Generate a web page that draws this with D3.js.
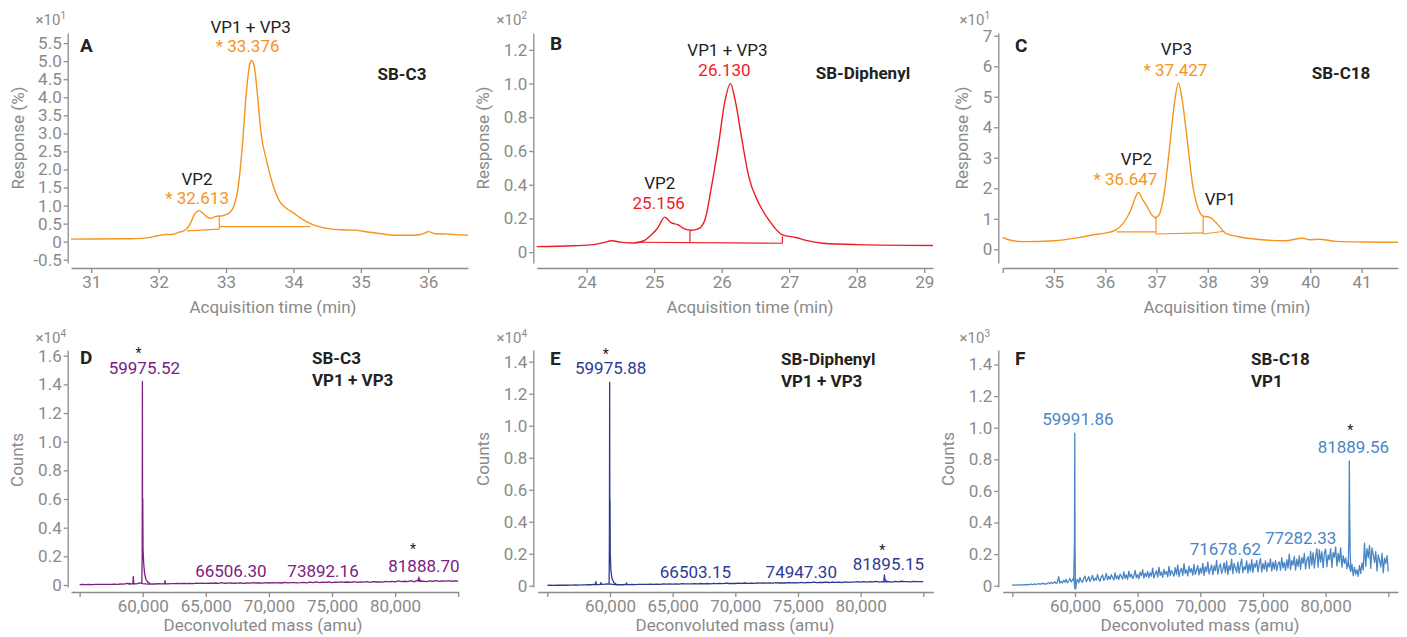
<!DOCTYPE html>
<html>
<head>
<meta charset="utf-8">
<script src="https://cdn.jsdelivr.net/npm/d3@7"></script>
<style>
body { margin: 0; background: #fff; }
svg text { font-family: Roboto, "Noto Sans", sans-serif; }
.axis path, .axis line { stroke: #8c8c8c; stroke-width: 1.3; }
.axis text { fill: #8a8a8a; font-size: 17px; }
.title { fill: #8a8a8a; font-size: 17px; }
.mult { fill: #8a8a8a; font-size: 15px; }
.letter { fill: #222; font-size: 19px; font-weight: bold; }
.name { fill: #222; font-size: 17px; font-weight: bold; }
.ann { font-size: 17px; }
</style>
</head>
<body>
<svg id="chart" width="1407" height="637"></svg>
<script>
var orange = "#f7931e", red = "#ed1c24", purple = "#7b2180", navy = "#2e3a92", sky = "#4a86c6";

// ---- chromatograms: [time (min), response] ----
var aTrace = [[30.70,0.07],[31.0,0.075],[31.5,0.08],[31.8,0.10],[32.0,0.17],[32.1,0.20],[32.2,0.20],
  [32.3,0.26],[32.4,0.33],[32.47,0.50],[32.53,0.75],[32.60,0.86],[32.66,0.78],[32.72,0.68],[32.77,0.65],
  [32.85,0.70],[32.95,0.72],[33.05,0.80],[33.12,1.00],[33.18,1.50],[33.24,2.6],[33.30,4.1],[33.35,4.9],
  [33.38,5.02],[33.42,4.85],[33.47,4.0],[33.52,3.0],[33.6,2.26],[33.7,1.55],[33.8,1.10],[33.9,0.92],
  [34.0,0.80],[34.1,0.66],[34.2,0.55],[34.35,0.43],[34.5,0.37],[34.7,0.33],[34.9,0.32],[35.1,0.27],
  [35.3,0.22],[35.5,0.18],[35.8,0.18],[35.95,0.24],[36.0,0.28],[36.1,0.22],[36.3,0.21],[36.59,0.18]];
var aBase = [[[32.42,0.30],[32.90,0.35]], [[32.90,0.35],[32.90,0.72]], [[32.90,0.42],[34.25,0.42]]];

var bTrace = [[23.26,0.033],[23.8,0.038],[24.1,0.045],[24.25,0.057],[24.37,0.068],[24.5,0.060],[24.7,0.055],
  [24.85,0.068],[24.95,0.10],[25.05,0.142],[25.156,0.208],[25.25,0.175],[25.35,0.163],[25.45,0.138],
  [25.55,0.130],[25.65,0.138],[25.75,0.19],[25.85,0.39],[25.95,0.63],[26.05,0.90],[26.13,1.0],[26.2,0.9],
  [26.3,0.667],[26.4,0.45],[26.55,0.29],[26.7,0.19],[26.9,0.103],[27.1,0.087],[27.25,0.07],[27.5,0.053],
  [28.0,0.045],[29.13,0.04]];
var bBase = [[[24.73,0.059],[26.9,0.053]], [[25.53,0.057],[25.53,0.13]], [[26.9,0.053],[26.9,0.093]]];

var cTrace = [[34.0,0.39],[34.1,0.32],[34.4,0.25],[35.0,0.28],[35.5,0.39],[35.75,0.47],[36.0,0.53],[36.2,0.63],
  [36.35,0.85],[36.5,1.29],[36.6,1.75],[36.647,1.87],[36.72,1.65],[36.8,1.45],[36.88,1.2],[36.97,1.04],
  [37.05,1.13],[37.15,1.84],[37.25,3.26],[37.35,4.79],[37.427,5.45],[37.5,4.9],[37.6,3.58],[37.7,2.16],
  [37.8,1.40],[37.9,1.09],[38.05,1.04],[38.2,0.80],[38.35,0.52],[38.6,0.41],[39.0,0.32],[39.5,0.28],
  [39.85,0.36],[40.0,0.31],[40.15,0.33],[40.5,0.26],[41.0,0.24],[41.71,0.23]];
var cBase = [[[36.22,0.57],[36.99,0.57]], [[36.99,0.50],[36.99,1.04]], [[36.99,0.50],[37.91,0.54]],
  [[37.91,0.50],[37.91,1.07]], [[37.91,0.50],[38.33,0.59]]];

// ---- deconvoluted spectra: noise on a fixed mass grid + peaks as [mass, counts] ----
var dNoiseStart = 55000, dNoiseStep = 250;
var dNoise = [0.003,0.004,0.003,0.004,0.003,0.004,0.004,0.005,0.004,0.005,
  0.005,0.006,0.005,0.007,0.006,0.012,0.007,0.010,0.008,0.015,
  0.010,0.008,0.006,0.008,0.007,0.009,0.008,0.010,0.008,0.009,
  0.009,0.011,0.009,0.012,0.010,0.011,0.010,0.013,0.011,0.012,
  0.011,0.013,0.012,0.014,0.012,0.016,0.012,0.013,0.014,0.012,
  0.013,0.015,0.012,0.014,0.013,0.016,0.014,0.015,0.013,0.017,
  0.014,0.016,0.015,0.017,0.014,0.018,0.015,0.016,0.017,0.015,
  0.016,0.018,0.015,0.020,0.016,0.022,0.017,0.019,0.018,0.021,
  0.017,0.020,0.018,0.022,0.019,0.021,0.018,0.023,0.019,0.022,
  0.020,0.023,0.019,0.024,0.021,0.022,0.020,0.025,0.021,0.026,
  0.022,0.028,0.023,0.026,0.024,0.030,0.022,0.032,0.025,0.027,
  0.024,0.029,0.026,0.031,0.025,0.028,0.027,0.030,0.026,0.029,0.027];
var dPeaks = [[[58900,0.004],[58940,0.012],[58980,0.004]],
  [[59220,0.006],[59256,0.06],[59290,0.006]],
  [[59930,0.01],[59960,0.2],[59975,1.42],[59990,0.35],[60005,0.6],[60025,0.25],[60080,0.15],[60150,0.08],[60250,0.04],[60400,0.02],[60600,0.01]],
  [[61740,0.008],[61770,0.03],[61800,0.008]],
  [[81800,0.025],[81889,0.055],[81930,0.03],[81990,0.035],[82060,0.025]]];

var eNoiseStart = 55000, eNoiseStep = 250;
var eNoise = [0.002,0.003,0.002,0.003,0.003,0.004,0.003,0.004,0.004,0.005,
  0.004,0.005,0.005,0.006,0.006,0.008,0.007,0.009,0.008,0.012,
  0.010,0.008,0.006,0.007,0.006,0.008,0.007,0.008,0.007,0.009,
  0.008,0.009,0.008,0.010,0.009,0.010,0.009,0.011,0.010,0.011,
  0.010,0.012,0.010,0.013,0.011,0.012,0.011,0.013,0.012,0.014,
  0.012,0.014,0.012,0.015,0.013,0.014,0.013,0.016,0.014,0.015,
  0.014,0.016,0.014,0.017,0.015,0.016,0.015,0.018,0.016,0.017,
  0.016,0.018,0.016,0.019,0.017,0.018,0.017,0.020,0.018,0.019,
  0.018,0.021,0.018,0.020,0.019,0.022,0.019,0.021,0.020,0.022,
  0.020,0.023,0.021,0.022,0.020,0.024,0.021,0.023,0.022,0.025,
  0.022,0.026,0.023,0.025,0.024,0.027,0.023,0.025,0.024,0.026,
  0.023,0.027,0.024,0.028,0.025,0.026,0.024,0.027,0.025,0.026,0.025];
var ePeaks = [[[58840,0.004],[58880,0.025],[58920,0.005]],
  [[59240,0.006],[59280,0.02],[59320,0.006]],
  [[59930,0.01],[59955,0.25],[59976,1.27],[59990,0.3],[60005,0.535],[60025,0.2],[60070,0.1],[60150,0.05],[60300,0.02],[60500,0.01]],
  [[61300,0.006],[61330,0.018],[61360,0.007]],
  [[81850,0.025],[81895,0.067],[81950,0.035],[82050,0.03],[82150,0.025]]];

var fNoiseStart = 55000, fNoiseStep = 100;
var fNoise = [0.003,0.005,0.004,0.004,0.006,0.005,0.004,0.007,0.005,0.006,
  0.007,0.006,0.009,0.006,0.008,0.011,0.007,0.009,0.012,0.008,
  0.010,0.014,0.009,0.012,0.017,0.011,0.013,0.010,0.016,0.019,
  0.012,0.022,0.015,0.018,0.026,0.014,0.021,0.058,0.017,0.028,
  0.019,0.034,0.022,0.041,0.018,0.030,0.046,0.024,0.036,0.052,
  -0.020,0.024,0.040,0.018,0.052,0.030,0.022,0.047,0.061,0.026,
  0.038,0.058,0.027,0.044,0.066,0.031,0.049,0.035,0.072,0.040,
  0.030,0.055,0.068,0.034,0.046,0.078,0.037,0.060,0.041,0.070,
  0.052,0.036,0.082,0.044,0.063,0.039,0.074,0.058,0.042,0.088,
  0.047,0.069,0.040,0.092,0.055,0.073,0.045,0.061,0.097,0.050,
  0.072,0.044,0.086,0.063,0.102,0.048,0.079,0.058,0.091,0.052,
  0.083,0.060,0.112,0.049,0.076,0.095,0.055,0.118,0.066,0.087,
  0.053,0.104,0.072,0.090,0.058,0.123,0.064,0.097,0.080,0.060,
  0.115,0.070,0.132,0.058,0.094,0.110,0.065,0.140,0.078,0.101,
  0.062,0.124,0.085,0.108,0.067,0.135,0.072,0.098,0.128,0.069,
  0.112,0.080,0.142,0.066,0.119,0.090,0.150,0.074,0.105,0.131,
  0.070,0.125,0.095,0.160,0.073,0.118,0.138,0.078,0.102,0.145,
  0.082,0.155,0.071,0.127,0.098,0.168,0.076,0.140,0.112,0.085,
  0.150,0.079,0.132,0.170,0.083,0.121,0.102,0.158,0.080,0.138,
  0.092,0.165,0.084,0.140,0.117,0.160,0.088,0.135,0.172,0.087,
  0.142,0.104,0.158,0.090,0.145,0.118,0.170,0.093,0.150,0.105,
  0.160,0.094,0.138,0.152,0.098,0.178,0.112,0.148,0.097,0.165,
  0.112,0.200,0.101,0.160,0.130,0.185,0.099,0.168,0.122,0.190,
  0.104,0.178,0.142,0.205,0.106,0.162,0.185,0.110,0.218,0.130,
  0.210,0.112,0.186,0.235,0.118,0.228,0.150,0.215,0.114,0.206,
  0.232,0.120,0.195,0.164,0.235,0.116,0.210,0.180,0.245,0.125,
  0.205,0.150,0.240,0.118,0.190,0.142,0.176,0.108,0.155,0.120,
  0.090,0.135,0.064,0.118,0.072,0.102,0.060,0.128,0.078,0.145,
  0.100,0.270,0.122,0.235,0.178,0.255,0.110,0.240,0.196,0.148,
  0.215,0.094,0.195,0.160,0.120,0.205,0.082,0.175,0.140,0.190,0.090];
var fPeaks = [[[59900,0.03],[59960,0.29],[59985,0.965],[60005,0.3],[60030,0.05],[60060,-0.02],[60120,0.03]],
  [[81800,0.12],[81860,0.3],[81890,0.79],[81920,0.45],[81960,0.2],[82020,0.1]]];

// tick values
var aYTicks = [-0.5,0,0.5,1,1.5,2,2.5,3,3.5,4,4.5,5,5.5], aXTicks = [31,32,33,34,35,36];
var bYTicks = [0,0.2,0.4,0.6,0.8,1.0,1.2], bXTicks = [24,25,26,27,28,29];
var cYTicks = [0,1,2,3,4,5,6,7], cXTicks = [34,35,36,37,38,39,40,41];
var dYTicks = [0,0.2,0.4,0.6,0.8,1.0,1.2,1.4,1.6];
var efYTicks = [0,0.2,0.4,0.6,0.8,1.0,1.2,1.4];
var msXTicks = [55000,60000,65000,70000,75000,80000,85000];

var fmtDec = function(d) { return d === 0 ? "0" : d.toFixed(1); };
var fmtInt = d3.format("d");
var fmtLcX = function(d) { return d === 34 ? "" : fmtInt(d); };
var fmtMass = function(d) { return (d === 55000 || d === 85000) ? "" : d3.format(",")(d); };

var svg = d3.select("#chart");

function noiseSeries(vals, start, step) {
  return vals.map(function(v, i) { return [start + i * step, v]; });
}

var panels = [
  { letter: "A", color: orange, exp: "1", traces: [aTrace], smooth: true, base: aBase,
    xDomain: [30.70, 36.59], yDomain: [-0.59, 5.78], yTicks: aYTicks, xTicks: aXTicks, yFmt: fmtDec, xFmt: fmtInt,
    axX: 67.7, x0: 71, x1: 468, yt: 33, yb: 263, multX: 66, multY: 25, ytitle: "Response (%)", ytX: 24, ytY: 138,
    xtitle: "Acquisition time (min)", xtX: 273, xtY: 313, letX: 80, letY: 52,
    names: [["SB-C3", 402, 80, "middle"]],
    anns: [
      { x: 33.38, v: 5.02, dx: -1, dy: -27, t: "VP1 + VP3", c: "#222" },
      { x: 33.38, v: 5.02, dx: -4, dy: -8, t: "* 33.376", c: orange },
      { x: 32.60, v: 0.86, dx: -2, dy: -26, t: "VP2", c: "#222" },
      { x: 32.60, v: 0.86, dx: -2, dy: -7, t: "* 32.613", c: orange }] },
  { letter: "B", color: red, exp: "2", traces: [bTrace], smooth: true, base: bBase,
    xDomain: [23.26, 29.13], yDomain: [-0.064, 1.30], yTicks: bYTicks, xTicks: bXTicks, yFmt: fmtDec, xFmt: fmtInt,
    axX: 533.3, x0: 536.7, x1: 933, yt: 33, yb: 263, multX: 527, multY: 25, ytitle: "Response (%)", ytX: 489, ytY: 138,
    xtitle: "Acquisition time (min)", xtX: 750, xtY: 313, letX: 550, letY: 50,
    names: [["SB-Diphenyl", 863, 79, "middle"]],
    anns: [
      { x: 26.13, v: 1.0, dx: -3, dy: -28, t: "VP1 + VP3", c: "#222" },
      { x: 26.13, v: 1.0, dx: -6, dy: -8, t: "26.130", c: red },
      { x: 25.156, v: 0.208, dx: -5, dy: -28, t: "VP2", c: "#222" },
      { x: 25.156, v: 0.208, dx: -6, dy: -8, t: "25.156", c: red }] },
  { letter: "C", color: orange, exp: "1", traces: [cTrace], smooth: true, base: cBase,
    xDomain: [34.0, 41.71], yDomain: [-0.45, 7.09], yTicks: cYTicks, xTicks: cXTicks, yFmt: fmtInt, xFmt: fmtLcX,
    axX: 998.3, x0: 1002.7, x1: 1398, yt: 33, yb: 263, multX: 990, multY: 25, ytitle: "Response (%)", ytX: 968, ytY: 138,
    xtitle: "Acquisition time (min)", xtX: 1227, xtY: 313, letX: 1015, letY: 52,
    names: [["SB-C18", 1341, 79, "middle"]],
    anns: [
      { x: 37.427, v: 5.45, dx: -2, dy: -28, t: "VP3", c: "#222" },
      { x: 37.427, v: 5.45, dx: -3, dy: -7, t: "* 37.427", c: orange },
      { x: 36.647, v: 1.87, dx: -2, dy: -27, t: "VP2", c: "#222" },
      { x: 36.647, v: 1.87, dx: -13, dy: -7, t: "* 36.647", c: orange },
      { x: 38.05, v: 1.04, dx: 10, dy: -13, t: "VP1", c: "#222" }] },
  { letter: "D", color: purple, exp: "4", traces: [noiseSeries(dNoise, dNoiseStart, dNoiseStep)].concat(dPeaks), smooth: false, base: [],
    xDomain: [54318, 85000], yDomain: [-0.014, 1.64], yTicks: dYTicks, xTicks: msXTicks, yFmt: fmtDec, xFmt: fmtMass,
    axX: 67.7, x0: 71, x1: 458.2, yt: 350, yb: 587, multX: 66, multY: 343, ytitle: "Counts", ytX: 23, ytY: 460,
    xtitle: "Deconvoluted mass (amu)", xtX: 263, xtY: 631, letX: 80, letY: 364,
    names: [["SB-C3", 312, 364, "start"], ["VP1 + VP3", 312, 386, "start"]],
    anns: [
      { x: 59975.52, v: 1.42, dx: 2, dy: -8, t: "59975.52", c: purple },
      { x: 59975.52, v: 1.42, dx: -4, dy: -24, t: "*", c: "#222", s: 14 },
      { x: 66506.30, v: 0, dx: 6, dy: -8, t: "66506.30", c: purple },
      { x: 73892.16, v: 0, dx: 5, dy: -8, t: "73892.16", c: purple },
      { x: 81888.70, v: 0.055, dx: 5, dy: -5, t: "81888.70", c: purple },
      { x: 81888.70, v: 0.055, dx: -6, dy: -23, t: "*", c: "#222", s: 14 }] },
  { letter: "E", color: navy, exp: "4", traces: [noiseSeries(eNoise, eNoiseStart, eNoiseStep)].concat(ePeaks), smooth: false, base: [],
    xDomain: [54234, 85798], yDomain: [-0.008, 1.473], yTicks: efYTicks, xTicks: msXTicks, yFmt: fmtDec, xFmt: fmtMass,
    axX: 533.3, x0: 537.7, x1: 933.3, yt: 350, yb: 587, multX: 527, multY: 343, ytitle: "Counts", ytX: 489, ytY: 459,
    xtitle: "Deconvoluted mass (amu)", xtX: 735, xtY: 631, letX: 550, letY: 365,
    names: [["SB-Diphenyl", 781, 365, "start"], ["VP1 + VP3", 781, 387, "start"]],
    anns: [
      { x: 59975.88, v: 1.27, dx: 1, dy: -8, t: "59975.88", c: navy },
      { x: 59975.88, v: 1.27, dx: -4, dy: -23, t: "*", c: "#222", s: 14 },
      { x: 66503.15, v: 0, dx: 4, dy: -8, t: "66503.15", c: navy },
      { x: 74947.30, v: 0, dx: 4, dy: -8, t: "74947.30", c: navy },
      { x: 81895.15, v: 0.067, dx: 4, dy: -5, t: "81895.15", c: navy },
      { x: 81895.15, v: 0.067, dx: -2, dy: -20, t: "*", c: "#222", s: 14 }] },
  { letter: "F", color: sky, exp: "3", traces: [noiseSeries(fNoise, fNoiseStart, fNoiseStep)].concat(fPeaks), smooth: false, base: [],
    xDomain: [54234, 85774], yDomain: [-0.008, 1.492], yTicks: efYTicks, xTicks: msXTicks, yFmt: fmtDec, xFmt: fmtMass,
    axX: 998.3, x0: 1002.7, x1: 1398, yt: 350, yb: 587, multX: 990, multY: 343, ytitle: "Counts", ytX: 954, ytY: 459,
    xtitle: "Deconvoluted mass (amu)", xtX: 1200, xtY: 631, letX: 1015, letY: 365,
    names: [["SB-C18", 1251, 365, "start"], ["VP1", 1251, 387, "start"]],
    anns: [
      { x: 59991.86, v: 0.965, dx: 3, dy: -8, t: "59991.86", c: sky },
      { x: 71678.62, v: 0, dx: 4, dy: -31, t: "71678.62", c: sky },
      { x: 77282.33, v: 0, dx: 9, dy: -42, t: "77282.33", c: sky },
      { x: 81889.56, v: 0.79, dx: 4, dy: -8, t: "81889.56", c: sky },
      { x: 81889.56, v: 0.79, dx: 1, dy: -26, t: "*", c: "#222", s: 14 }] }
];

panels.forEach(drawPanel);

function drawPanel(p) {
  var g = svg.append("g");
  var x = d3.scaleLinear().domain(p.xDomain).range([p.x0, p.x1]);
  var y = d3.scaleLinear().domain(p.yDomain).range([p.yb, p.yt]);

  g.append("g").attr("class", "axis")
    .attr("transform", "translate(" + p.axX + ",0)")
    .call(d3.axisLeft(y).tickValues(p.yTicks).tickFormat(p.yFmt).tickSize(4).tickSizeOuter(0).tickPadding(2));
  g.append("g").attr("class", "axis")
    .attr("transform", "translate(0," + (p.yb + 5) + ")")
    .call(d3.axisBottom(x).tickValues(p.xTicks).tickFormat(p.xFmt).tickSize(5).tickSizeOuter(0).tickPadding(3));

  // ×10^n multiplier
  var m = g.append("text").attr("class", "mult").attr("x", p.multX).attr("y", p.multY).attr("text-anchor", "end");
  m.append("tspan").text("\u00d710");
  m.append("tspan").attr("dy", -6).style("font-size", "10px").text(p.exp);

  g.append("text").attr("class", "title").attr("text-anchor", "middle")
    .attr("transform", "translate(" + p.ytX + "," + p.ytY + ") rotate(-90)").text(p.ytitle);
  g.append("text").attr("class", "title").attr("text-anchor", "middle")
    .attr("x", p.xtX).attr("y", p.xtY).text(p.xtitle);

  var line = d3.line().x(function(d) { return x(d[0]); }).y(function(d) { return y(d[1]); });
  if (p.smooth) line.curve(d3.curveMonotoneX);
  var straight = d3.line().x(function(d) { return x(d[0]); }).y(function(d) { return y(d[1]); });

  g.selectAll("path.base").data(p.base).enter().append("path")
    .attr("class", "base").attr("d", straight)
    .attr("fill", "none").attr("stroke", p.color).attr("stroke-width", 1.2);

  g.selectAll("path.trace").data(p.traces).enter().append("path")
    .attr("class", "trace").attr("d", line)
    .attr("fill", "none").attr("stroke", p.color)
    .attr("stroke-width", p.smooth ? 1.4 : 1.3).attr("stroke-linejoin", "round");

  g.append("text").attr("class", "letter").attr("x", p.letX).attr("y", p.letY).text(p.letter);
  p.names.forEach(function(n) {
    g.append("text").attr("class", "name").attr("x", n[1]).attr("y", n[2]).attr("text-anchor", n[3]).text(n[0]);
  });

  g.selectAll("text.ann").data(p.anns).enter().append("text")
    .attr("class", "ann").attr("text-anchor", "middle")
    .attr("x", function(d) { return x(d.x) + d.dx; })
    .attr("y", function(d) { return y(d.v) + d.dy; })
    .attr("fill", function(d) { return d.c; })
    .style("font-size", function(d) { return d.s ? d.s + "px" : null; })
    .text(function(d) { return d.t; });
}
</script>
</body>
</html>
